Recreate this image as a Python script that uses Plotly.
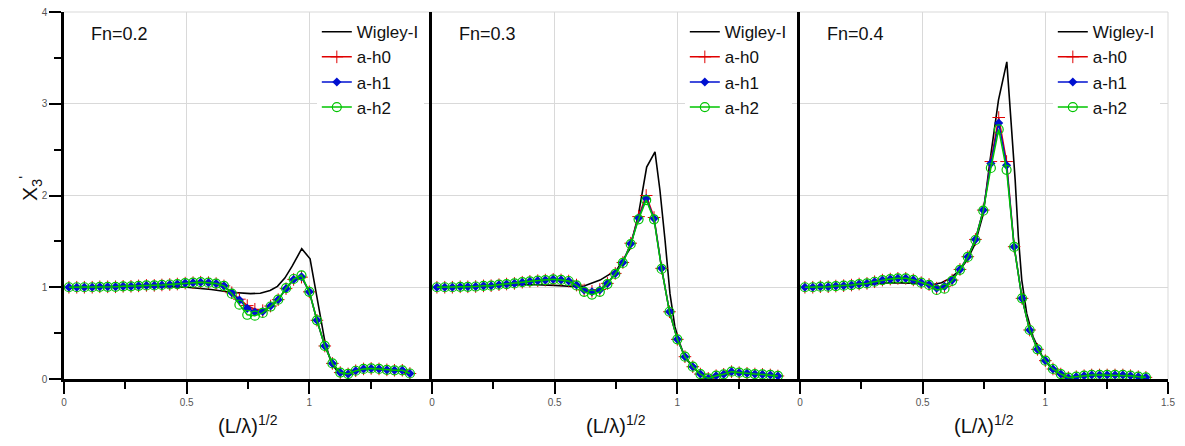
import plotly.graph_objects as go
from plotly.subplots import make_subplots

# Non-dimensional frequency (L/lambda)^(1/2) at which the hull variants were computed
X_GRID = [0.020, 0.052, 0.083, 0.115, 0.146, 0.178, 0.210, 0.241, 0.273, 0.304,
          0.336, 0.368, 0.399, 0.431, 0.462, 0.494, 0.526, 0.557, 0.589, 0.620,
          0.652, 0.684, 0.715, 0.747, 0.778, 0.810, 0.842, 0.873, 0.905, 0.936,
          0.968, 1.000, 1.031, 1.063, 1.094, 1.126, 1.158, 1.189, 1.221, 1.252,
          1.284, 1.316, 1.347, 1.379, 1.410]

FROUDE = ["Fn=0.2", "Fn=0.3", "Fn=0.4"]
SERIES = ["Wigley-I", "a-h0", "a-h1", "a-h2"]

# ---- Fn = 0.2 ----
wig_x_02 = [0.02, 0.10, 0.20, 0.30, 0.40, 0.50, 0.60, 0.68, 0.72, 0.76, 0.80, 0.84,
            0.87, 0.90, 0.93, 0.95, 0.969, 1.003, 1.023, 1.044, 1.064, 1.09, 1.12,
            1.15, 1.19, 1.25, 1.30, 1.35, 1.41]
wig_y_02 = [1.0, 1.003, 1.008, 1.012, 1.01, 1.0, 0.975, 0.945, 0.935, 0.93, 0.935, 0.965,
            1.01, 1.10, 1.23, 1.32, 1.42, 1.31, 1.0, 0.68, 0.40, 0.17, 0.065,
            0.055, 0.09, 0.11, 0.11, 0.095, 0.06]
ah0_02 = [1.0, 1.0, 1.0, 1.0, 1.005, 1.005, 1.005, 1.01, 1.01, 1.015, 1.02, 1.02, 1.025,
          1.03, 1.035, 1.045, 1.05, 1.055, 1.05, 1.04, 1.015, 0.94, 0.87, 0.80, 0.76,
          0.745, 0.795, 0.865, 0.985, 1.085, 1.11, 0.95, 0.64, 0.36, 0.17, 0.07, 0.055,
          0.09, 0.11, 0.115, 0.11, 0.10, 0.095, 0.095, 0.06]
ah1_02 = [1.0, 1.0, 1.0, 1.0, 1.005, 1.005, 1.005, 1.01, 1.01, 1.015, 1.02, 1.02, 1.025,
          1.03, 1.035, 1.045, 1.05, 1.055, 1.05, 1.04, 1.015, 0.94, 0.86, 0.77, 0.73,
          0.735, 0.795, 0.865, 0.985, 1.085, 1.115, 0.95, 0.64, 0.36, 0.17, 0.07, 0.055,
          0.09, 0.11, 0.115, 0.11, 0.10, 0.095, 0.095, 0.06]
ah2_02 = [1.0, 1.0, 1.0, 1.0, 1.005, 1.005, 1.005, 1.01, 1.01, 1.015, 1.02, 1.02, 1.025,
          1.03, 1.035, 1.045, 1.05, 1.055, 1.05, 1.04, 1.015, 0.93, 0.81, 0.70, 0.69,
          0.72, 0.79, 0.865, 0.99, 1.09, 1.13, 0.95, 0.64, 0.36, 0.17, 0.07, 0.055,
          0.09, 0.11, 0.115, 0.11, 0.10, 0.095, 0.095, 0.06]

# ---- Fn = 0.3 ----
wig_x_03 = [0.02, 0.10, 0.20, 0.30, 0.40, 0.50, 0.59, 0.62, 0.685, 0.753, 0.807, 0.842,
            0.875, 0.909, 0.929, 0.95, 0.97, 0.99, 1.01, 1.03, 1.063, 1.094, 1.126,
            1.158, 1.19, 1.22, 1.25, 1.30, 1.35, 1.41]
wig_y_03 = [1.0, 1.005, 1.015, 1.025, 1.03, 1.02, 1.005, 1.013, 1.078, 1.19, 1.42, 1.80,
            2.31, 2.476, 2.06, 1.51, 0.93, 0.57, 0.39, 0.24, 0.13, 0.05, 0.007,
            0.036, 0.05, 0.08, 0.07, 0.06, 0.045, 0.033]
ah0_03 = [1.0, 1.0, 1.0, 1.005, 1.005, 1.008, 1.015, 1.017, 1.028, 1.035, 1.042, 1.055,
          1.065, 1.072, 1.078, 1.086, 1.08, 1.068, 1.024, 0.97, 0.955, 0.975, 1.042,
          1.151, 1.27, 1.48, 1.77, 2.0, 1.76, 1.206, 0.733, 0.432, 0.243, 0.134, 0.054,
          0.007, 0.036, 0.051, 0.08, 0.069, 0.062, 0.054, 0.05, 0.044, 0.033]
ah1_03 = [1.0, 1.0, 1.0, 1.005, 1.005, 1.008, 1.015, 1.017, 1.028, 1.035, 1.042, 1.055,
          1.065, 1.072, 1.078, 1.086, 1.08, 1.068, 1.024, 0.97, 0.951, 0.97, 1.042,
          1.151, 1.27, 1.475, 1.755, 1.968, 1.75, 1.206, 0.733, 0.432, 0.243, 0.134,
          0.054, 0.007, 0.036, 0.051, 0.08, 0.069, 0.062, 0.054, 0.05, 0.044, 0.033]
ah2_03 = [1.0, 1.0, 1.0, 1.005, 1.005, 1.008, 1.015, 1.017, 1.028, 1.035, 1.042, 1.055,
          1.065, 1.072, 1.078, 1.086, 1.08, 1.068, 1.02, 0.95, 0.92, 0.95, 1.035,
          1.145, 1.265, 1.47, 1.74, 1.95, 1.74, 1.2, 0.733, 0.432, 0.243, 0.134,
          0.054, 0.007, 0.036, 0.051, 0.08, 0.069, 0.062, 0.054, 0.05, 0.044, 0.033]

# ---- Fn = 0.4 ----
wig_x_04 = [0.02, 0.10, 0.245, 0.367, 0.45, 0.503, 0.543, 0.577, 0.611, 0.645, 0.68,
            0.713, 0.747, 0.775, 0.795, 0.809, 0.843, 0.856, 0.877, 0.89, 0.904, 0.924,
            0.95, 0.985, 1.02, 1.06, 1.10, 1.15, 1.20, 1.30, 1.41]
wig_y_04 = [1.0, 1.005, 1.024, 1.05, 1.045, 1.035, 1.03, 1.05, 1.096, 1.17, 1.29,
            1.47, 1.80, 2.39, 2.785, 3.04, 3.457, 2.97, 2.17, 1.55, 1.078, 0.715,
            0.46, 0.26, 0.13, 0.04, 0.012, 0.03, 0.04, 0.04, 0.02]
ah0_04 = [1.0, 1.0, 1.006, 1.006, 1.013, 1.017, 1.024, 1.035, 1.042, 1.06, 1.078, 1.089,
          1.097, 1.097, 1.08, 1.05, 1.03, 0.99, 1.01, 1.078, 1.194, 1.333, 1.521, 1.841,
          2.37, 2.85, 2.37, 1.442, 0.879, 0.534, 0.323, 0.2, 0.109, 0.054, 0.014, 0.025,
          0.036, 0.044, 0.044, 0.044, 0.044, 0.044, 0.036, 0.025, 0.018]
ah1_04 = [1.0, 1.0, 1.006, 1.006, 1.013, 1.017, 1.024, 1.035, 1.042, 1.06, 1.078, 1.089,
          1.097, 1.097, 1.08, 1.05, 1.03, 0.99, 1.01, 1.078, 1.194, 1.333, 1.521, 1.841,
          2.35, 2.79, 2.33, 1.442, 0.879, 0.534, 0.323, 0.2, 0.109, 0.054, 0.014, 0.025,
          0.036, 0.044, 0.044, 0.044, 0.044, 0.044, 0.036, 0.025, 0.018]
ah2_04 = [1.0, 1.0, 1.006, 1.006, 1.013, 1.017, 1.024, 1.035, 1.042, 1.06, 1.078, 1.089,
          1.097, 1.097, 1.08, 1.05, 1.025, 0.97, 0.985, 1.07, 1.19, 1.33, 1.515, 1.835,
          2.30, 2.72, 2.28, 1.44, 0.879, 0.534, 0.323, 0.2, 0.109, 0.054, 0.014, 0.025,
          0.036, 0.044, 0.044, 0.044, 0.044, 0.044, 0.036, 0.025, 0.018]

PANELS = [
    (wig_x_02, wig_y_02, ah0_02, ah1_02, ah2_02),
    (wig_x_03, wig_y_03, ah0_03, ah1_03, ah2_03),
    (wig_x_04, wig_y_04, ah0_04, ah1_04, ah2_04),
]

FONT = "Liberation Sans, Arial, sans-serif"
RED, BLUE, GREEN = "#e00000", "#0010d0", "#00c400"
GRID = "#d9d9d9"

fig = make_subplots(rows=1, cols=3, horizontal_spacing=0.0, shared_yaxes=False)

for i, (wx, wy, a0, a1, a2) in enumerate(PANELS):
    col = i + 1
    leg = "legend" if i == 0 else f"legend{i + 1}"
    fig.add_trace(go.Scatter(x=wx, y=wy, mode="lines", name=SERIES[0], legend=leg,
                             line=dict(color="black", width=1.6)), row=1, col=col)
    fig.add_trace(go.Scatter(x=X_GRID, y=a0, mode="lines+markers", name=SERIES[1], legend=leg,
                             line=dict(color=RED, width=1.5),
                             marker=dict(symbol="cross-thin", size=9,
                                         line=dict(color=RED, width=1))), row=1, col=col)
    fig.add_trace(go.Scatter(x=X_GRID, y=a1, mode="lines+markers", name=SERIES[2], legend=leg,
                             line=dict(color=BLUE, width=1.5),
                             marker=dict(symbol="diamond", size=7, color=BLUE)), row=1, col=col)
    fig.add_trace(go.Scatter(x=X_GRID, y=a2, mode="lines+markers", name=SERIES[3], legend=leg,
                             line=dict(color=GREEN, width=1.5),
                             marker=dict(symbol="circle-open", size=9,
                                         line=dict(color=GREEN, width=1.2))), row=1, col=col)

    last = i == 2
    xdom = [i / 3, (i + 1) / 3]
    fig.update_xaxes(row=1, col=col, domain=xdom, range=[0, 1.5],
                     tickvals=[0, 0.5, 1, 1.5],
                     ticktext=["0", "0.5", "1", "1.5" if last else ""],
                     ticks="outside", ticklen=12, tickwidth=2, tickcolor="black",
                     minor=dict(ticks="outside", ticklen=7, tickwidth=2, tickcolor="black",
                                tickvals=[0.25, 0.75, 1.25], showgrid=False),
                     showline=True, linecolor="black", linewidth=2.5,
                     showgrid=True, gridcolor=GRID, gridwidth=1, zeroline=False,
                     tickfont=dict(family=FONT, size=10, color="#555555"))
    fig.update_yaxes(row=1, col=col, range=[0, 4], tickvals=[0, 1, 2, 3, 4],
                     showticklabels=(i == 0),
                     ticks="outside" if i == 0 else "", ticklen=12, tickwidth=2,
                     tickcolor="black",
                     minor=dict(ticks="outside" if i == 0 else "", ticklen=7, tickwidth=2,
                                tickcolor="black", tickvals=[0.5, 1.5, 2.5, 3.5],
                                showgrid=False),
                     showline=True, linecolor="black", linewidth=2.5,
                     showgrid=True, gridcolor=GRID, gridwidth=1, zeroline=False,
                     tickfont=dict(family=FONT, size=10, color="#555555"))

    xref = "x domain" if i == 0 else f"x{i + 1} domain"
    yref = "y domain" if i == 0 else f"y{i + 1} domain"
    fig.add_annotation(xref=xref, yref=yref, x=0.068, y=0.94, xanchor="left",
                       yanchor="middle", text=FROUDE[i], showarrow=False,
                       font=dict(family=FONT, size=18, color="#111111"))
    fig.add_annotation(xref=xref, yref="paper", x=0.5, y=-0.125, xanchor="center",
                       yanchor="middle", text="(L/\u03bb)<sup>1/2</sup>", showarrow=False,
                       font=dict(family=FONT, size=20, color="#111111"))

    legend_cfg = dict(x=xdom[0] + (0.687 / 3), y=0.994, xanchor="left", yanchor="top",
                      bgcolor="white", borderwidth=0, tracegroupgap=0,
                      font=dict(family=FONT, size=17, color="#111111"))
    fig.update_layout(**{leg: legend_cfg})

# light frame along the top and the far right edge of the panel row
fig.add_shape(type="line", xref="paper", yref="paper", x0=0, x1=1, y0=1, y1=1,
              line=dict(color=GRID, width=1), layer="below")
fig.add_shape(type="line", xref="paper", yref="paper", x0=1, x1=1, y0=0, y1=1,
              line=dict(color=GRID, width=1), layer="below")

fig.add_annotation(xref="paper", yref="paper", x=-0.031, y=0.52, xanchor="center",
                   yanchor="middle", textangle=-90,
                   text="X<sub>3</sub><sup>'</sup>", showarrow=False,
                   font=dict(family=FONT, size=21, color="#111111"))

fig.update_layout(width=1185, height=446,
                  margin=dict(l=64, r=17, t=12, b=67, autoexpand=False),
                  paper_bgcolor="white", plot_bgcolor="white", showlegend=True)

fig.write_html("out.html")
